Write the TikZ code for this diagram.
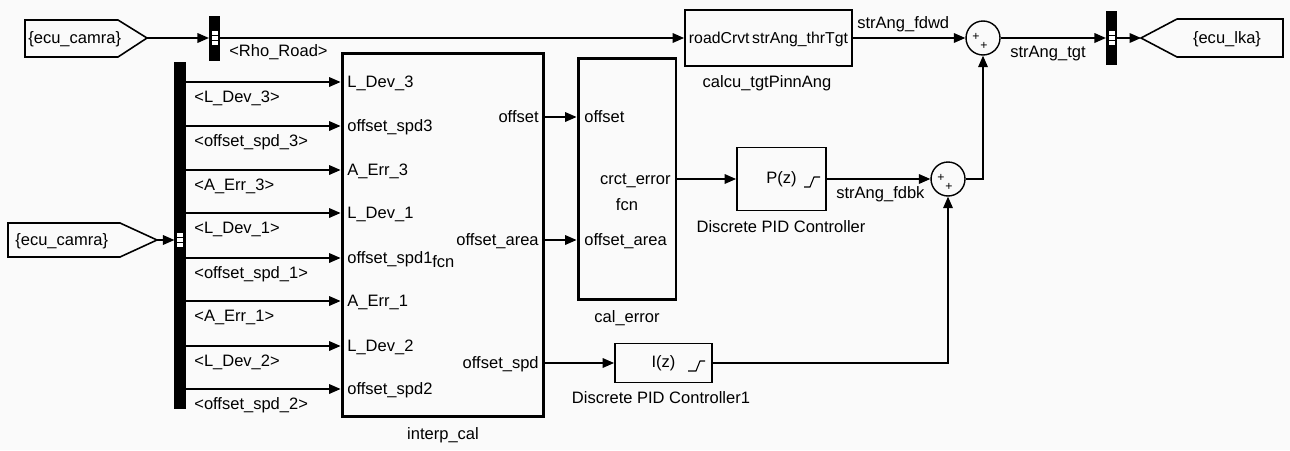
\documentclass[tikz,border=0pt]{standalone}
\usepackage{fontspec}
\setmainfont{Liberation Sans}
\usepackage{tikz}
\usetikzlibrary{arrows.meta}

\begin{document}
\begin{tikzpicture}[x=0.02cm,y=-0.02cm,font=\fontsize{9.4}{11}\selectfont,
  >={Triangle[length=6.5pt,width=5.5pt]},line join=miter,
  sig/.style={->,line width=0.7pt},
  blk/.style={draw,line width=1.1pt,inner sep=0pt},
  fbox/.style={draw,line width=1.7pt,inner sep=0pt},
  bus/.style={fill=black,draw=black,inner sep=0pt,minimum width=0.21cm},
  lbl/.style={inner sep=0pt,text height=6.8pt,text depth=0pt},
  sumc/.style={circle,draw,line width=0.8pt,minimum size=0.68cm,inner sep=0pt},
  sgn/.style={inner sep=0pt,font=\fontsize{7}{7}\selectfont},
  tag/.style={draw,line width=0.9pt}]
\useasboundingbox[fill=black!2] (0,0) rectangle (1290,450);

% from / goto tags
\draw[tag] (25,20) -- (118,20) -- (147,38) coordinate (camA) -- (118,57) -- (25,57) -- cycle;
\node[lbl,anchor=west] (camAtxt) at (28,38) {\{ecu\_camra\}};
\draw[tag] (8,223) -- (120,223) -- (157,240) coordinate (camB) -- (120,257) -- (8,257) -- cycle;
\node[lbl,anchor=west] (camBtxt) at (15,240) {\{ecu\_camra\}};
\draw[tag] (1141,38) coordinate (lka) -- (1177,19) -- (1283,19) -- (1283,57) -- (1177,57) -- cycle;
\node[lbl] (lkatxt) at (1227,38) {\{ecu\_lka\}};

% buses
\node[bus,minimum height=0.88cm] (bus1) at (214.5,38) {};
\node[bus,minimum height=6.92cm] (bus2) at (180,235) {};
\node[bus,minimum height=1.06cm] (bus3) at (1111.5,38) {};
\foreach \px/\py in {215/38,180/240,1112/38}{
  \fill[white] (\px-3,\py-7) rectangle (\px+3,\py+7);
  \draw[line width=0.4pt] (\px-3,\py-2.3) -- (\px+3,\py-2.3) (\px-3,\py+2.3) -- (\px+3,\py+2.3);
}

% blocks
\node[fbox,minimum width=4.04cm,minimum height=7.28cm] (interp) at (443,235) {};
\node[fbox,minimum width=1.96cm,minimum height=4.84cm] (calerr) at (627,179) {};
\node[blk,minimum width=3.34cm,minimum height=1.12cm] (calcu) at (768.5,38) {};
\node[blk,minimum width=1.78cm,minimum height=1.26cm] (pidP) at (781.5,179) {P(z)};
\node[blk,minimum width=1.94cm,minimum height=0.78cm] (pidI) at (663.5,363) {I(z)};
\node[sumc] (sum1) at (983,38) {};
\node[sumc] (sum2) at (948,179) {};
\node[sgn] (s1a) at (976,37) {+};
\node[sgn] (s1b) at (984,46) {+};
\node[sgn] (s2a) at (941,178) {+};
\node[sgn] (s2b) at (949,187) {+};
\draw[line width=0.6pt] (804,187) -- (810,187) -- (814,177) -- (820,177);
\draw[line width=0.6pt] (688,371) -- (696,371) -- (700,361) -- (705,361);

% port and block names
\node[lbl,font=\fontsize{9}{10.8}\selectfont] (pRoad) at (768.5,38) {roadCrvt\,strAng\_thrTgt};
\node[lbl,anchor=east] (oOff) at (539,117) {offset};
\node[lbl,anchor=east] (oArea) at (539,240) {offset\_area};
\node[lbl,anchor=east] (oSpd) at (539,363) {offset\_spd};
\node[lbl,anchor=west] (fcnA) at (432,262) {fcn};
\node[lbl,anchor=west] (iOff) at (584,117) {offset};
\node[lbl,anchor=west] (iArea) at (584,240) {offset\_area};
\node[lbl,anchor=east] (oErr) at (671,179) {crct\_error};
\node[lbl] (fcnB) at (627,205) {fcn};
\node[lbl] (nInterp) at (443,434) {interp\_cal};
\node[lbl] (nCalerr) at (627,317) {cal\_error};
\node[lbl] (nCalcu) at (767,82) {calcu\_tgtPinnAng};
\node[lbl] (nPidP) at (781,227) {Discrete PID Controller};
\node[lbl] (nPidI) at (661,398) {Discrete PID Controller1};

% signals
\draw[sig] (camA) -- (bus1.west);
\draw[sig] (bus1.east) -- (calcu.west);
\node[lbl,anchor=west] (rho) at (229,51) {<Rho\_Road>};
\draw[sig] (calcu.east) -- (sum1.west);
\node[lbl,anchor=west] (fdwd) at (857,23) {strAng\_fdwd};
\draw[sig] (sum1.east) -- (bus3.west);
\node[lbl,anchor=west] (tgt) at (1010,52) {strAng\_tgt};
\draw[sig] (bus3.east) -- (lka);
\draw[sig] (sum2.east) -| (sum1.south);
\draw[sig] (camB) -- (bus2.west |- camB);
\foreach \y/\bn/\pn [count=\i] in {82/L\_Dev\_3/L\_Dev\_3,126/offset\_spd\_3/offset\_spd3,
  170/A\_Err\_3/A\_Err\_3,213/L\_Dev\_1/L\_Dev\_1,258/offset\_spd\_1/offset\_spd1,
  301/A\_Err\_1/A\_Err\_1,346/L\_Dev\_2/L\_Dev\_2,389/offset\_spd\_2/offset\_spd2}{
  \coordinate (r\i) at (0,\y);
  \draw[sig] (bus2.east |- r\i) -- (interp.west |- r\i);
  \node[lbl,anchor=west] (sel\i) at (194,\y+15) {<\bn>};
  \node[lbl,anchor=west] (in\i) at (347,\y) {\pn};
}
\coordinate (yOff) at (0,117);
\coordinate (yArea) at (0,240);
\draw[sig] (interp.east |- yOff) -- (calerr.west |- yOff);
\draw[sig] (interp.east |- yArea) -- (calerr.west |- yArea);
\draw[sig] (calerr.east |- pidP) -- (pidP.west);
\draw[sig] (pidP.east) -- (sum2.west);
\node[lbl,anchor=west] (fdbk) at (836,193) {strAng\_fdbk};
\draw[sig] (interp.east |- pidI) -- (pidI.west);
\draw[sig] (pidI.east) -| (sum2.south);
\end{tikzpicture}
\end{document}
